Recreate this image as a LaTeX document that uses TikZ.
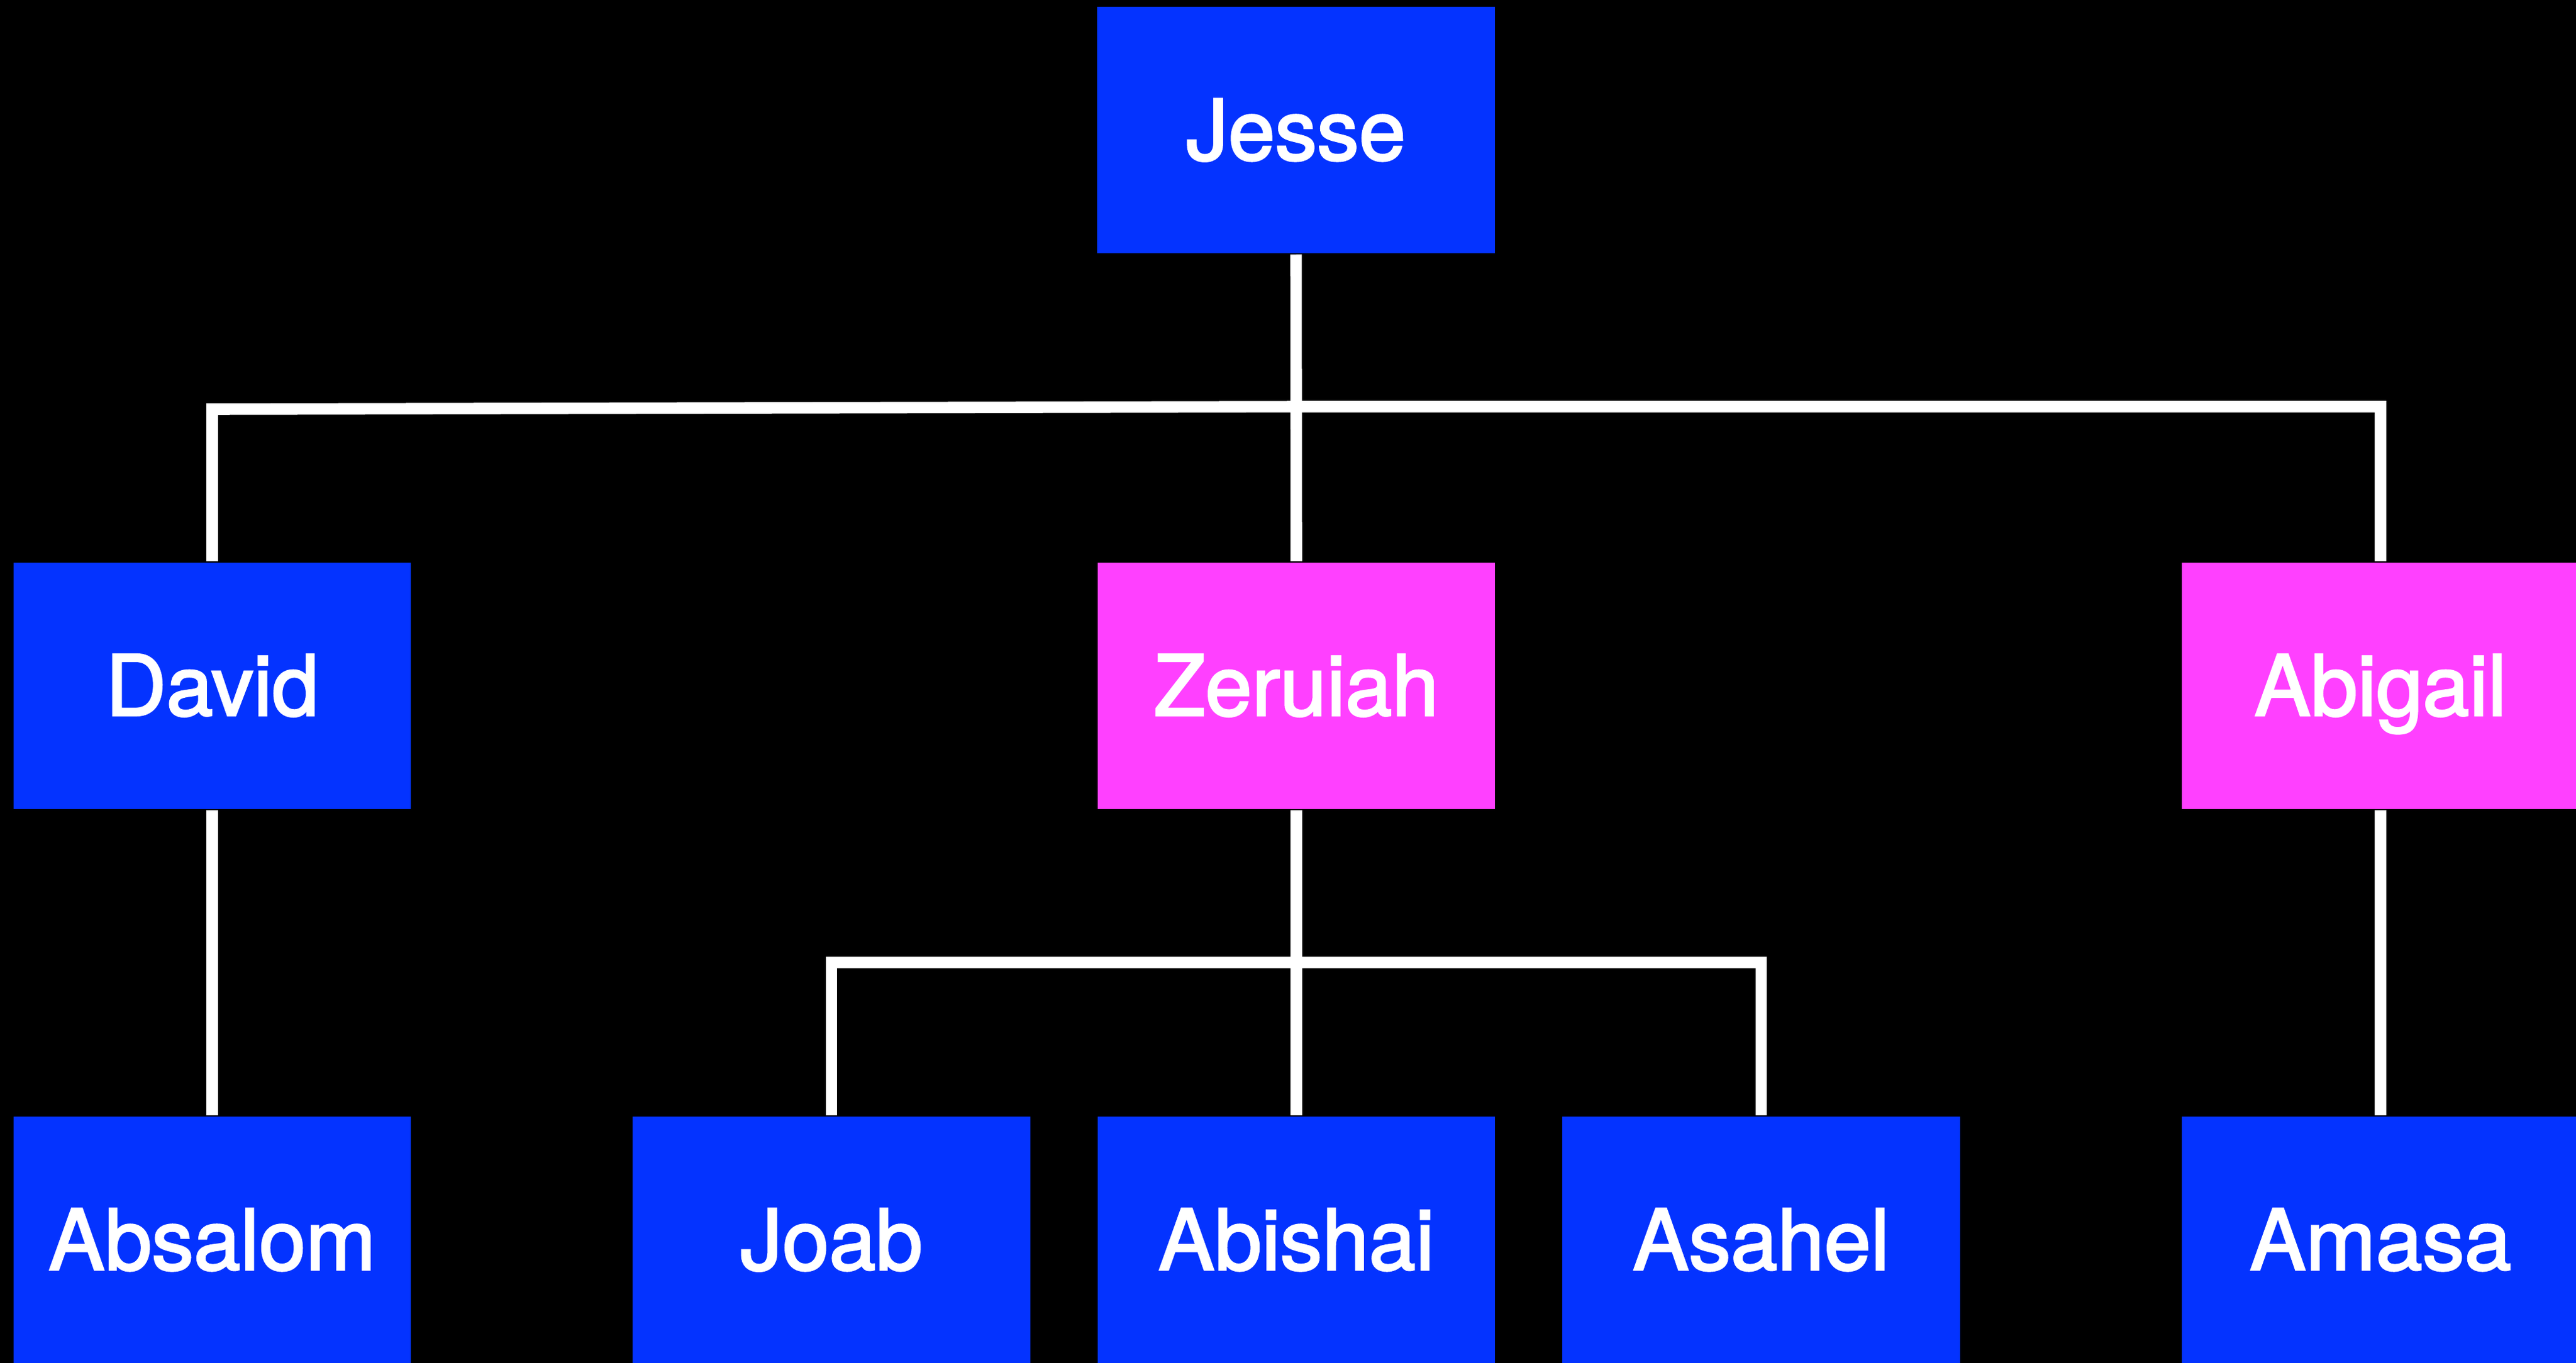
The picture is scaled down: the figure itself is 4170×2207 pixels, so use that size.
\documentclass[tikz,border=0pt]{standalone}
\usepackage{fontspec}
\setmainfont{TeX Gyre Heros}
\newcommand{\heavytext}[1]{\special{pdf:literal direct 2 Tr 0.3 w}#1\special{pdf:literal direct 0 Tr}}
\definecolor{nodeblue}{RGB}{4,51,255}
\definecolor{nodepink}{RGB}{255,64,255}
\tikzset{
  person/.style={rectangle, draw=none, fill=nodeblue, minimum width=64.4pt, minimum height=39.9pt,
    inner sep=0pt, text=white, font=\fontsize{13.6pt}{16pt}\selectfont, text height=9.7pt, text depth=0pt},
  woman/.style={person, fill=nodepink},
  link/.style={draw=white, line width=1.86pt, line join=miter, line cap=butt}
}
\begin{document}
\begin{tikzpicture}[x=0.1pt,y=-0.1pt]
\fill[black] (0,0) rectangle (4170,2207);
\useasboundingbox (0,0) rectangle (4170,2207);
% generation 1
\node[person] (jesse) at (2098,210.5) {\heavytext{Jesse}};
% generation 2
\node[person] (david) at (343.5,1110) {\heavytext{David}};
\node[woman] (zeruiah) at (2098.5,1110) {\heavytext{Zeruiah}};
\node[woman] (abigail) at (3853.5,1110) {\heavytext{Abigail}};
% generation 3
\node[person] (absalom) at (343.5,2007.5) {\heavytext{Absalom}};
\node[person] (joab) at (1346,2007.5) {\heavytext{Joab}};
\node[person] (abishai) at (2098.5,2007.5) {\heavytext{Abishai}};
\node[person] (asahel) at (2851,2007.5) {\heavytext{Asahel}};
\node[person] (amasa) at (3853.5,2007.5) {\heavytext{Amasa}};
% junction coordinates
\coordinate (jl) at (343.5,662.5);
\coordinate (jm) at (2098.5,658.5);
\coordinate (jr) at (3853.5,658.5);
\coordinate (zl) at (1346,1558.5);
\coordinate (zr) at (2851,1558.5);
% connectors
\draw[link] (jesse.south) -- (zeruiah.north);
\draw[link] (david.north) -- (jl) -- (jm) -- (jr) -- (abigail.north);
\draw[link] (david.south) -- (absalom.north);
\draw[link] (zeruiah.south) -- (abishai.north);
\draw[link] (joab.north) -- (zl) -- (zr) -- (asahel.north);
\draw[link] (abigail.south) -- (amasa.north);
\end{tikzpicture}
\end{document}
